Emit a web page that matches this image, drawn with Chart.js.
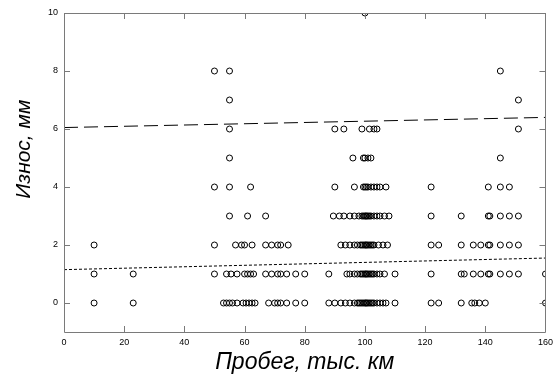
<!DOCTYPE html>
<html>
<head>
<meta charset="utf-8">
<script src="https://cdn.jsdelivr.net/npm/chart.js@4/dist/chart.umd.min.js"></script>
<style>
html,body{margin:0;padding:0;background:#fff;}
canvas{display:block;}
</style>
</head>
<body>
<canvas id="c" width="558" height="380"></canvas>
<script>
// Mileage (thousand km) of observations, grouped by measured wear (mm)
const wear0Km = [10, 23, 53, 54, 55, 56, 57.5, 59.5, 60.5, 61.5, 62.5, 63.5, 68, 70, 71, 72, 74, 77, 80, 88, 90, 92, 93.5, 95, 96.5, 97.5, 98, 98.5, 99, 99.5, 100, 100.3, 100.6, 101, 101.5, 102, 102.5, 103, 104, 105, 106, 107, 110, 122, 124.5, 132, 135.5, 136.5, 138, 140, 160];
const wear1Km = [10, 23, 50, 54, 55.5, 57.5, 60, 61, 62, 63, 67, 69, 71, 72, 74, 77, 80, 88, 94, 95, 96.5, 97.5, 98.5, 99, 99.5, 100, 100.3, 100.6, 101, 101.5, 102, 102.5, 103, 104, 105, 106.5, 110, 122, 132, 133, 136, 138.5, 141, 141.5, 145, 148, 151, 160];
const wear2Km = [10, 50, 57, 59, 60, 62.5, 67, 69, 71, 72, 74.5, 92, 93.5, 95, 96.5, 97.5, 98.5, 99, 99.5, 100, 100.3, 100.6, 101, 101.5, 102, 102.5, 103, 104.5, 106, 107.5, 122, 124.5, 132, 136, 138.5, 141, 141.5, 145, 148, 151];
const wear3Km = [55, 61, 67, 89.5, 91.5, 93, 95, 96.5, 98, 99, 99.5, 100, 100.3, 100.6, 101, 101.5, 102, 103, 104, 105, 106.5, 108, 122, 132, 141, 141.5, 145, 148, 151];
const wear4Km = [50, 55, 62, 90, 96.5, 99.5, 100, 100.5, 101, 102, 103, 104, 105, 107, 122, 141, 145, 148];
const wear5Km = [55, 96, 99.5, 100, 101, 102, 145];
const wear6Km = [55, 90, 93, 99, 101.5, 103, 104, 151];
const wear7Km = [55, 151];
const wear8Km = [50, 55, 145];
const wear10Km = [100];
const wearLevels = [0, 1, 2, 3, 4, 5, 6, 7, 8, 10];
const kmByLevel = [wear0Km, wear1Km, wear2Km, wear3Km, wear4Km, wear5Km, wear6Km, wear7Km, wear8Km, wear10Km];

// Trend lines
const trendKm = [0, 160];
const upperTrend = [6.05, 6.4];
const lowerTrend = [1.15, 1.55];

// Ticks
const xTicks = [0, 20, 40, 60, 80, 100, 120, 140, 160];
const yTicks = [0, 2, 4, 6, 8, 10];

const points = [];
wearLevels.forEach((w, i) => kmByLevel[i].forEach(k => points.push({x: k, y: w})));

const frameColor = '#7a7a7a';
const framePlugin = {
  id: 'frame',
  afterDatasetsDraw(chart) {
    const {ctx, chartArea: a} = chart;
    const xs = chart.scales.x, ys = chart.scales.y;
    const L = 6;
    ctx.save();
    ctx.strokeStyle = frameColor;
    ctx.lineWidth = 1;
    ctx.beginPath();
    ctx.rect(Math.round(a.left) + 0.5, Math.round(a.top) + 0.5, Math.round(a.right - a.left), Math.round(a.bottom - a.top));
    xTicks.forEach(v => {
      const p = Math.round(xs.getPixelForValue(v)) + 0.5;
      ctx.moveTo(p, a.bottom); ctx.lineTo(p, a.bottom - L);
      ctx.moveTo(p, a.top); ctx.lineTo(p, a.top + L);
    });
    yTicks.forEach(v => {
      const p = Math.round(ys.getPixelForValue(v)) + 0.5;
      ctx.moveTo(a.left, p); ctx.lineTo(a.left + L, p);
      ctx.moveTo(a.right, p); ctx.lineTo(a.right - L, p);
    });
    ctx.stroke();
    ctx.restore();
  }
};

new Chart(document.getElementById('c'), {
  type: 'scatter',
  data: {
    datasets: [
      {
        data: points,
        pointRadius: 3,
        pointHoverRadius: 3,
        pointBorderWidth: 1,
        pointBorderColor: '#000',
        pointBackgroundColor: 'rgba(0,0,0,0)',
        showLine: false,
        clip: 0
      },
      {
        type: 'line',
        data: trendKm.map((k, i) => ({x: k, y: upperTrend[i]})),
        borderColor: '#000',
        borderWidth: 1,
        borderDash: [14, 6],
        pointRadius: 0,
        fill: false
      },
      {
        type: 'line',
        data: trendKm.map((k, i) => ({x: k, y: lowerTrend[i]})),
        borderColor: '#000',
        borderWidth: 1,
        borderDash: [3, 2],
        pointRadius: 0,
        fill: false
      }
    ]
  },
  options: {
    responsive: false,
    animation: false,
    events: [],
    layout: {padding: {top: 13, right: 9, left: 0, bottom: 0}},
    plugins: {legend: {display: false}, tooltip: {enabled: false}},
    scales: {
      x: {
        type: 'linear',
        min: 0, max: 160,
        afterBuildTicks: s => { s.ticks = xTicks.map(v => ({value: v})); },
        afterFit: s => { s.height = 48; },
        grid: {display: false, drawTicks: false},
        border: {display: false},
        ticks: {color: '#000', font: {family: 'Liberation Sans', size: 9}, padding: 5, maxRotation: 0},
        title: {display: true, text: 'Пробег, тыс. км', color: '#000',
                font: {family: 'Liberation Sans', size: 23, style: 'italic'}, padding: {top: 0, bottom: 4}}
      },
      y: {
        type: 'linear',
        min: -1, max: 10,
        afterBuildTicks: s => { s.ticks = yTicks.map(v => ({value: v})); },
        afterFit: s => { s.width = 64; },
        grid: {display: false, drawTicks: false},
        border: {display: false},
        ticks: {color: '#000', font: {family: 'Liberation Sans', size: 9}, padding: 6},
        title: {display: true, text: '\u00a0\u00a0\u00a0\u00a0\u00a0\u00a0\u00a0\u00a0Износ, мм', color: '#000',
                font: {family: 'Liberation Sans', size: 21, style: 'italic'}, padding: {top: 12, bottom: 0}}
      }
    }
  },
  plugins: [framePlugin]
});
</script>
</body>
</html>
